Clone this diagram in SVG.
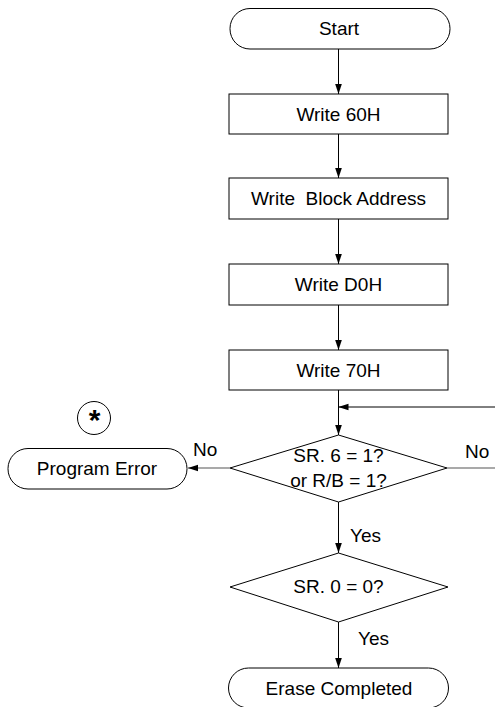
<svg xmlns="http://www.w3.org/2000/svg" width="495" height="707" viewBox="0 0 495 707">
<defs>
<marker id="ah" markerWidth="10" markerHeight="15" refX="15" refY="5" viewBox="0 0 15 10" orient="auto" markerUnits="userSpaceOnUse">
<path d="M0,0 L15,5 L0,10 Z" fill="#000"/>
</marker>
</defs>
<style>
.s{fill:#fff;stroke:#000;stroke-width:1}
.t{font-family:"Liberation Sans",Arial,sans-serif;font-size:19px;fill:#000;text-anchor:middle}
.l{font-family:"Liberation Sans",Arial,sans-serif;font-size:19px;fill:#000}
.c{fill:none;stroke:#000;stroke-width:1}
.g{fill:none;stroke:#555;stroke-width:1.2}
</style>
<rect width="495" height="707" fill="#fff"/>
<g id="connectors">
<line class="c" x1="338.5" y1="49" x2="338.5" y2="94" marker-end="url(#ah)"/>
<line class="c" x1="338.5" y1="134" x2="338.5" y2="178" marker-end="url(#ah)"/>
<line class="c" x1="338.5" y1="219" x2="338.5" y2="264" marker-end="url(#ah)"/>
<line class="c" x1="338.5" y1="305" x2="338.5" y2="350" marker-end="url(#ah)"/>
<line class="c" x1="338.5" y1="390" x2="338.5" y2="435" marker-end="url(#ah)"/>
<line class="c" x1="495" y1="407" x2="338.5" y2="407" marker-end="url(#ah)"/>
<line class="g" x1="230" y1="468" x2="188" y2="468" marker-end="url(#ah)"/>
<line class="g" x1="447" y1="468" x2="495" y2="468"/>
<line class="c" x1="338.5" y1="502" x2="338.5" y2="553" marker-end="url(#ah)"/>
<line class="c" x1="338.5" y1="622" x2="338.5" y2="668" marker-end="url(#ah)"/>
<text class="l" x="193" y="456">No</text>
<text class="l" x="465" y="458">No</text>
<text class="l" x="350" y="542">Yes</text>
<text class="l" x="358" y="645">Yes</text>
</g>
<g id="start">
<rect class="s" x="230" y="8.5" width="220" height="40.5" rx="20" ry="20"/>
<text class="t" x="339" y="35">Start</text>
</g>
<g id="write60">
<rect class="s" x="229" y="94" width="219" height="40"/>
<text class="t" x="338.5" y="120.5">Write 60H</text>
</g>
<g id="writeBlock">
<rect class="s" x="229" y="178" width="219" height="41"/>
<text class="t" x="338.5" y="205" xml:space="preserve">Write  Block Address</text>
</g>
<g id="writeD0">
<rect class="s" x="229" y="264" width="219" height="41"/>
<text class="t" x="338.5" y="291">Write D0H</text>
</g>
<g id="write70">
<rect class="s" x="229" y="350" width="219" height="40"/>
<text class="t" x="338.5" y="376.5">Write 70H</text>
</g>
<g id="star">
<circle class="s" cx="94" cy="418" r="16.5"/>
<text x="94.5" y="430" style="font-family:'Liberation Sans',Arial,sans-serif;font-size:30px;font-weight:bold;text-anchor:middle">*</text>
</g>
<g id="programError">
<rect class="s" x="8" y="448.5" width="179" height="40.5" rx="20" ry="20"/>
<text class="t" x="97" y="474.5">Program Error</text>
</g>
<g id="dec1">
<polygon class="s" points="338.5,435 447,468 338.5,502 230,468"/>
<text class="t" x="338.5" y="462">SR. 6 = 1?</text>
<text class="t" x="338.5" y="487">or R/B = 1?</text>
</g>
<g id="dec2">
<polygon class="s" points="338.5,553 448,587 338.5,622 230,587"/>
<text class="t" x="338.5" y="593">SR. 0 = 0?</text>
</g>
<g id="eraseCompleted">
<rect class="s" x="228.5" y="668" width="220" height="40" rx="20" ry="20"/>
<text class="t" x="339" y="695">Erase Completed</text>
</g>
</svg>
